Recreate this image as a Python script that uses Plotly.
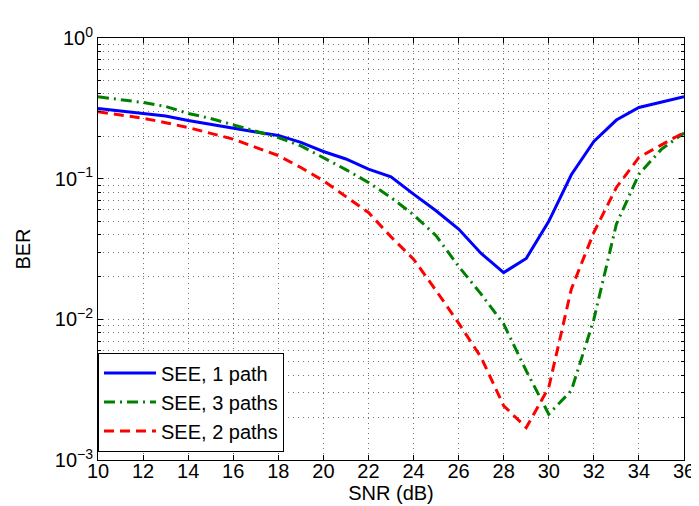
import plotly.graph_objects as go

snr = list(range(10, 37))

ber_1path = [0.315, 0.303, 0.291, 0.279, 0.259, 0.243, 0.227, 0.215, 0.203, 0.181,
             0.156, 0.138, 0.117, 0.103, 0.0776, 0.0591, 0.0438, 0.0294, 0.0215, 0.0271,
             0.0497, 0.1066, 0.184, 0.261, 0.321, 0.350, 0.382]
ber_3paths = [0.382, 0.366, 0.348, 0.326, 0.291, 0.268, 0.242, 0.216, 0.196, 0.171,
              0.141, 0.116, 0.094, 0.0735, 0.0554, 0.0393, 0.0238, 0.0151, 0.00925, 0.00431,
              0.00212, 0.00311, 0.0100, 0.0475, 0.1076, 0.162, 0.211]
ber_2paths = [0.299, 0.284, 0.269, 0.250, 0.231, 0.210, 0.191, 0.167, 0.146, 0.120,
              0.0967, 0.0745, 0.0575, 0.0386, 0.0268, 0.0160, 0.0094, 0.00536, 0.00243, 0.0017,
              0.00328, 0.0164, 0.0415, 0.0866, 0.1415, 0.174, 0.213]

xticks = list(range(10, 37, 2))
ytick_vals = [1e-3, 1e-2, 1e-1, 1]
ytick_text = ["10<sup>\u22123</sup>", "10<sup>\u22122</sup>", "10<sup>\u22121</sup>", "10<sup>0</sup>"]
yminor_vals = [m * d for d in (1e-3, 1e-2, 1e-1) for m in range(2, 10)]

font = "Liberation Sans, Arial, Helvetica, sans-serif"

fig = go.Figure()
fig.add_trace(go.Scatter(x=snr, y=ber_1path, mode="lines", name="SEE, 1 path",
                         line=dict(color="#0000ff", width=3)))
fig.add_trace(go.Scatter(x=snr, y=ber_3paths, mode="lines", name="SEE, 3 paths",
                         line=dict(color="#008000", width=3, dash="11px,5px,2px,5px")))
fig.add_trace(go.Scatter(x=snr, y=ber_2paths, mode="lines", name="SEE, 2 paths",
                         line=dict(color="#ff0000", width=3, dash="10px,6px")))

gridc = "rgba(0,0,0,0.55)"
gdash = "1px,4px"
fig.update_layout(
    width=699, height=506,
    margin=dict(l=90, r=13, t=30, b=54),
    plot_bgcolor="white", paper_bgcolor="white",
    font=dict(family=font, size=20, color="black"),
    showlegend=True,
    legend=dict(x=0.0, y=0.02, xanchor="left", yanchor="bottom",
                bordercolor="black", borderwidth=1, bgcolor="white",
                font=dict(size=20), tracegroupgap=0, itemwidth=52),
    xaxis=dict(range=[10, 36], tickvals=xticks, ticktext=[str(v) for v in xticks],
               showline=True, linecolor="black", linewidth=1, mirror="allticks",
               ticks="inside", ticklen=5, tickcolor="black",
               ticklabelstandoff=-7,
               showgrid=True, gridcolor=gridc, griddash=gdash, gridwidth=1,
               zeroline=False,
               title=dict(text="SNR (dB)", standoff=0, font=dict(size=20))),
    yaxis=dict(type="log", range=[-3, 0], tickvals=ytick_vals, ticktext=ytick_text,
               showline=True, linecolor="black", linewidth=1, mirror="allticks",
               ticks="inside", ticklen=5, tickcolor="black",
               showgrid=True, gridcolor=gridc, griddash=gdash, gridwidth=1,
               minor=dict(tickvals=yminor_vals, ticks="inside", ticklen=3, tickcolor="black",
                          showgrid=True, gridcolor=gridc, griddash=gdash, gridwidth=1),
               zeroline=False,
               title=dict(text="BER", standoff=18, font=dict(size=20))),
)

fig.write_html("out.html")
